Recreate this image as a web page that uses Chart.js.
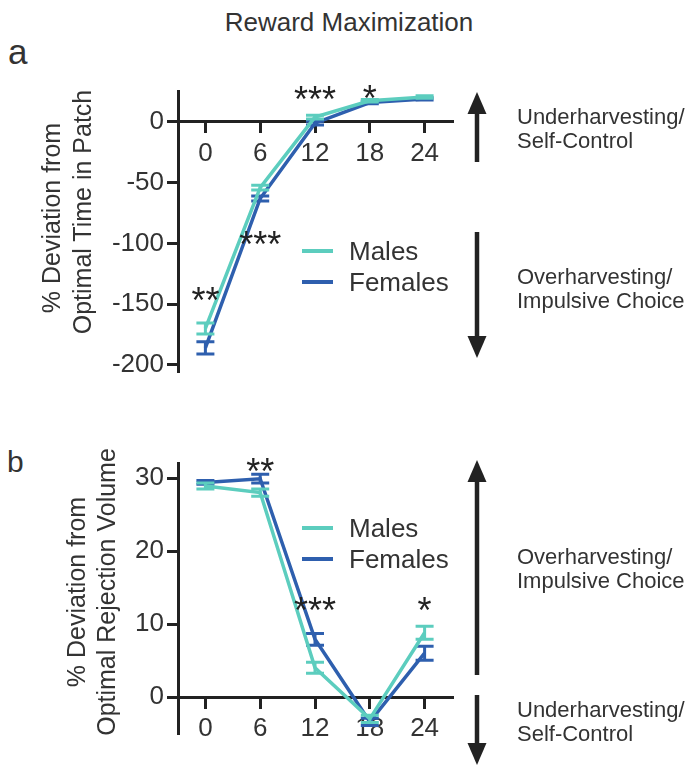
<!DOCTYPE html>
<html>
<head>
<meta charset="utf-8">
<script src="https://cdn.jsdelivr.net/npm/chart.js@4.4.0/dist/chart.umd.min.js"></script>
<style>
  body { margin: 0; background: #fff; }
  #page { position: relative; width: 690px; height: 774px; overflow: hidden;
          font-family: "Liberation Sans", Arial, Helvetica, sans-serif; color: #333; }
  canvas { position: absolute; left: 0; }
  .txt { position: absolute; white-space: nowrap; line-height: 1; }
  .note { position: absolute; left: 517px; font-size: 22px; line-height: 24px; white-space: nowrap; }
  .ytitle { position: absolute; font-size: 25px; line-height: 1; white-space: nowrap;
            transform: translate(-50%, -50%) rotate(-90deg); }
  .legend { position: absolute; font-size: 26px; }
  .legend .row { height: 31px; line-height: 31px; white-space: nowrap; }
  .legend .swatch { display: inline-block; width: 31px; height: 4px; vertical-align: middle;
                    margin-right: 16px; position: relative; top: -2px; }
</style>
</head>
<body>
<div id="page">
  <div class="txt" style="left:0;width:698px;text-align:center;top:9px;font-size:26px;">Reward Maximization</div>
  <div class="txt" style="left:8px;top:34px;font-size:35px;">a</div>
  <div class="txt" style="left:7px;top:447px;font-size:30px;">b</div>

  <canvas id="chartA" width="690" height="400" style="top:0"></canvas>
  <canvas id="chartB" width="690" height="364" style="top:410px"></canvas>

  <div class="ytitle" style="left:51px;top:218px;">% Deviation from</div>
  <div class="ytitle" style="left:82px;top:212px;">Optimal Time in Patch</div>
  <div class="ytitle" style="left:76px;top:592px;">% Deviation from</div>
  <div class="ytitle" style="left:106px;top:592px;">Optimal Rejection Volume</div>

  <div class="note" style="top:105px;">Underharvesting/<br>Self-Control</div>
  <div class="note" style="top:265px;">Overharvesting/<br>Impulsive Choice</div>
  <div class="note" style="top:545px;">Overharvesting/<br>Impulsive Choice</div>
  <div class="note" style="top:698px;">Underharvesting/<br>Self-Control</div>

  <svg id="arrows" width="690" height="774" style="position:absolute;left:0;top:0"></svg>
</div>

<script>
// shared x values
const hours = [0, 6, 12, 18, 24];
const seriesNames = ['Males', 'Females'];
const seriesColors = ['#5ccdbe', '#2e5fae'];

// panel a: % deviation from optimal time in patch
const timeMales = [-170, -54, 4, 17.5, 20.5];
const timeMalesSem = [4.5, 2, 1.5, 1, 1];
const timeFemales = [-186, -63, -1, 16, 19];
const timeFemalesSem = [5, 2, 1.5, 1, 1];
const timeTicks = [0, -50, -100, -150, -200];
const timeStarsX = [0, 6, 12, 18];
const timeStarsY = [-140, -94, 25.5, 26];
const timeStars = ['**', '***', '***', '*'];

// panel b: % deviation from optimal rejection volume
const volMales = [28.9, 28.0, 4.0, -3.0, 8.8];
const volMalesSem = [0.4, 0.5, 0.75, 0.5, 0.9];
const volFemales = [29.4, 29.9, 7.9, -3.4, 6.0];
const volFemalesSem = [0.25, 0.6, 0.8, 0.5, 0.95];
const volTicks = [0, 10, 20, 30];
const volStarsX = [6, 12, 24];
const volStarsY = [32, 13, 13];
const volStars = ['**', '***', '*'];

const FONT = '"Liberation Sans", Arial, Helvetica, sans-serif';
const AXIS = '#222';

function buildPanel(id, males, malesSem, females, femalesSem, yMin, yMax, yTicks, pad, starX, starY, starTxt) {
    const ctx = document.getElementById(id).getContext('2d');
    const toPoints = (vals) => hours.map((h, i) => ({ x: h, y: vals[i] }));
    const errs = [malesSem, femalesSem];

    // error bars drawn right after each line so the layering follows the lines
    const errorBars = {
        id: 'errorBars',
        afterDatasetDraw(chart, args) {
            const { ctx, scales: { x, y } } = chart;
            const ds = chart.data.datasets[args.index];
            ctx.save();
            ctx.lineWidth = 3;
            ctx.strokeStyle = ds.borderColor;
            ds.data.forEach((p, i) => {
                const px = x.getPixelForValue(p.x);
                const hi = y.getPixelForValue(p.y + errs[args.index][i]);
                const lo = y.getPixelForValue(p.y - errs[args.index][i]);
                ctx.beginPath();
                ctx.moveTo(px, hi); ctx.lineTo(px, lo);
                ctx.moveTo(px - 9, hi); ctx.lineTo(px + 9, hi);
                ctx.moveTo(px - 9, lo); ctx.lineTo(px + 9, lo);
                ctx.stroke();
            });
            ctx.restore();
        }
    };

    const stars = {
        id: 'stars',
        afterDraw(chart) {
            const { ctx, scales: { x, y } } = chart;
            ctx.save();
            ctx.font = '36px ' + FONT;
            ctx.fillStyle = AXIS;
            ctx.textAlign = 'center';
            ctx.textBaseline = 'alphabetic';
            starTxt.forEach((s, i) => {
                ctx.fillText(s, x.getPixelForValue(starX[i]), y.getPixelForValue(starY[i]) + 0.57 * 36);
            });
            ctx.restore();
        }
    };

    new Chart(ctx, {
        type: 'line',
        data: {
            datasets: [
                { label: seriesNames[0], data: toPoints(males), borderColor: seriesColors[0] },
                { label: seriesNames[1], data: toPoints(females), borderColor: seriesColors[1] }
            ].map(d => Object.assign(d, {
                backgroundColor: d.borderColor, borderWidth: 3.5, pointRadius: 0,
                tension: 0, fill: false, clip: false
            }))
        },
        options: {
            responsive: false,
            animation: false,
            devicePixelRatio: 1,
            layout: { padding: pad },
            plugins: { legend: { display: false }, tooltip: { enabled: false } },
            scales: {
                x: {
                    type: 'linear',
                    position: { y: 0 },
                    min: -3, max: 27,
                    afterBuildTicks: (s) => { s.ticks = hours.map(v => ({ value: v })); },
                    grid: { drawOnChartArea: false, tickLength: 10, color: AXIS, lineWidth: 3 },
                    border: { color: AXIS, width: 3 },
                    ticks: { font: { size: 26, family: FONT }, color: '#333', padding: 6,
                             maxRotation: 0, callback: v => String(v) }
                },
                y: {
                    type: 'linear',
                    min: yMin, max: yMax,
                    afterFit: (s) => { s.width = 178; },
                    afterBuildTicks: (s) => { s.ticks = yTicks.map(v => ({ value: v })); },
                    grid: { drawOnChartArea: false, tickLength: 11, color: AXIS, lineWidth: 3 },
                    border: { color: AXIS, width: 3 },
                    ticks: { font: { size: 26, family: FONT }, color: '#333', padding: 3,
                             callback: v => String(v) }
                }
            }
        },
        plugins: [errorBars, stars]
    });
}

function addLegend(left, top) {
    const box = document.createElement('div');
    box.className = 'legend';
    box.style.left = left + 'px';
    box.style.top = top + 'px';
    seriesNames.forEach((name, i) => {
        const row = document.createElement('div');
        row.className = 'row';
        row.innerHTML = '<span class="swatch" style="background:' + seriesColors[i] + '"></span>' + name;
        box.appendChild(row);
    });
    document.getElementById('page').appendChild(box);
}

function drawArrows() {
    const svg = document.getElementById('arrows');
    // [x, tip, tail]
    const arrows = [[477, 92, 162], [477, 358, 232], [477, 460, 675], [477, 765, 695]];
    let html = '';
    arrows.forEach(([x, tip, tail]) => {
        const dir = tail > tip ? 1 : -1;
        const base = tip + dir * 22;
        html += '<line x1="' + x + '" y1="' + base + '" x2="' + x + '" y2="' + tail +
                '" stroke="#222" stroke-width="4.5"/>';
        html += '<polygon fill="#222" points="' + x + ',' + tip + ' ' + (x - 9.5) + ',' + base + ' ' +
                (x + 9.5) + ',' + base + '"/>';
    });
    svg.innerHTML = html;
}

buildPanel('chartA', timeMales, timeMalesSem, timeFemales, timeFemalesSem,
    -205, 25, timeTicks, { left: 0, top: 91.6, right: 238, bottom: 29 },
    timeStarsX, timeStarsY, timeStars);
buildPanel('chartB', volMales, volMalesSem, volFemales, volFemalesSem,
    -5, 32, volTicks, { left: 0, top: 53.4, right: 238, bottom: 40.5 },
    volStarsX, volStarsY, volStars);
addLegend(302, 236);
addLegend(302, 513);
drawArrows();
</script>
</body>
</html>
